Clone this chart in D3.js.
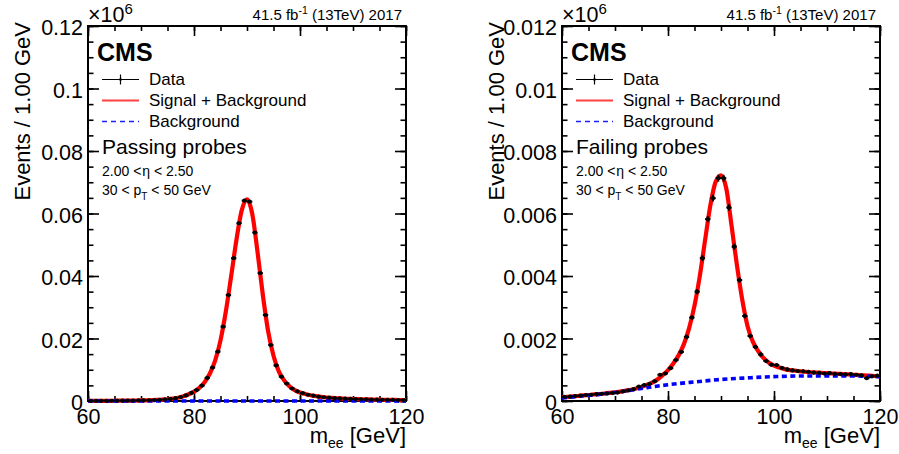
<!DOCTYPE html>
<html><head><meta charset="utf-8">
<script src="https://cdn.jsdelivr.net/npm/d3@7"></script>
<style>
body{margin:0;background:#fff}
text{font-family:"Liberation Sans",Arial,Helvetica,sans-serif;fill:#000}
</style>
</head><body>
<svg id="c" width="899" height="454"></svg>
<script>
// ---------- data (values in units of 10^6 events / 1 GeV) ----------
const binCenters = d3.range(60.5, 120, 1);          // 60 bins of 1 GeV
const fitGrid = d3.range(60, 121, 1);               // fit curve sampled every GeV
const bkgGrid = [60, 65, 70, 75, 80, 85, 90, 95, 100, 105, 110, 115, 120];

const passData = [
  0.00005,0.00005,0.00006,0.00007,0.00008,0.00009,0.00010,0.00012,0.00014,0.00017,
  0.00020,0.00024,0.00030,0.00038,0.00050,0.00066,0.00090,0.00125,0.00180,0.00260,
  0.00350,0.00490,0.00740,0.01070,0.01580,0.02380,0.03390,0.04570,0.05690,0.06410,
  0.06380,0.05390,0.04090,0.02750,0.01790,0.01140,0.00780,0.00560,0.00400,0.00310,
  0.00250,0.00200,0.00170,0.00140,0.00120,0.00105,0.00092,0.00082,0.00074,0.00067,
  0.00061,0.00056,0.00051,0.00047,0.00043,0.00040,0.00037,0.00034,0.00032,0.00030];
const passFit = [
  0.00004,0.00005,0.00005,0.00006,0.00007,0.00008,0.00009,0.00011,0.00013,0.00015,
  0.00018,0.00022,0.00027,0.00033,0.00043,0.00057,0.00077,0.00106,0.00150,0.00215,
  0.00300,0.00420,0.00600,0.00880,0.01300,0.01940,0.02860,0.03980,0.05150,0.06100,
  0.06450,0.05980,0.04750,0.03380,0.02220,0.01450,0.00950,0.00660,0.00470,0.00350,
  0.00275,0.00225,0.00185,0.00155,0.00130,0.00112,0.00098,0.00087,0.00078,0.00070,
  0.00064,0.00058,0.00053,0.00049,0.00045,0.00042,0.00039,0.00036,0.00033,0.00031,0.00029];
const passBkg = [0.00001,0.00001,0.00001,0.00001,0.00001,0.00001,0.00001,0.00001,0.00001,0.00001,0.00001,0.00001,0.00001];

const failData = [
  0.00013,0.00014,0.00016,0.00017,0.00019,0.00020,0.00022,0.00023,0.00024,0.00026,
  0.00027,0.00031,0.00034,0.00038,0.00046,0.00051,0.00055,0.00063,0.00084,0.00088,
  0.00105,0.00131,0.00157,0.00205,0.00267,0.00350,0.00457,0.00582,0.00649,0.00713,
  0.00713,0.00619,0.00494,0.00387,0.00272,0.00208,0.00173,0.00149,0.00128,0.00116,
  0.00115,0.00106,0.00101,0.00098,0.00096,0.00095,0.00093,0.00091,0.00090,0.00088,
  0.00089,0.00087,0.00086,0.00085,0.00086,0.00084,0.00082,0.00073,0.00079,0.00081];
const failFit = [
  0.00012,0.00013,0.00015,0.00016,0.00018,0.00019,0.00021,0.00022,0.00024,0.00026,
  0.00028,0.00030,0.00033,0.00036,0.00040,0.00045,0.00051,0.00059,0.00069,0.00083,
  0.00099,0.00120,0.00146,0.00182,0.00234,0.00305,0.00400,0.00515,0.00627,0.00702,
  0.00722,0.00680,0.00560,0.00435,0.00325,0.00240,0.00190,0.00160,0.00138,0.00123,
  0.00113,0.00107,0.00102,0.00099,0.00097,0.00095,0.00093,0.00092,0.00091,0.00090,
  0.00089,0.00088,0.00087,0.00086,0.00085,0.00084,0.00083,0.00082,0.00081,0.00080,0.00079];
const failBkg = [0.00010,0.00018,0.00027,0.00040,0.00052,0.00061,0.00069,0.00074,0.00078,0.00080,0.00080,0.00080,0.00078];

const xTicks = [60, 80, 100, 120];
const xMinor = d3.range(60, 121, 5);
const passYTicks = [0, 0.02, 0.04, 0.06, 0.08, 0.10, 0.12];
const passYLabels = ["0", "0.02", "0.04", "0.06", "0.08", "0.1", "0.12"];
const failYTicks = [0, 0.002, 0.004, 0.006, 0.008, 0.010, 0.012];
const failYLabels = ["0", "0.002", "0.004", "0.006", "0.008", "0.01", "0.012"];
const legendLabels = ["Data", "Signal + Background", "Background"];

// ---------- drawing ----------
const svg = d3.select("#c");

function panel(o) {
  const x0 = o.left, x1 = o.left + 318, y0 = 26, y1 = 401;
  const x = d3.scaleLinear().domain([60, 120]).range([x0, x1]);
  const y = d3.scaleLinear().domain([0, o.ymax]).range([y1, y0]);
  const g = svg.append("g");

  // frame
  g.append("rect").attr("x", x0).attr("y", y0).attr("width", x1 - x0).attr("height", y1 - y0)
    .attr("fill", "none").attr("stroke", "#000").attr("stroke-width", 2);

  const tickStyle = sel => { sel.select(".domain").remove(); sel.selectAll("line").attr("stroke", "#000").attr("stroke-width", 1.6); };

  // x axes
  g.append("g").attr("transform", `translate(0,${y1})`)
    .call(d3.axisBottom(x).tickValues(xMinor).tickSizeInner(-5).tickSizeOuter(0).tickFormat("")).call(tickStyle);
  const xb = g.append("g").attr("transform", `translate(0,${y1})`)
    .call(d3.axisBottom(x).tickValues(xTicks).tickSizeInner(-10).tickSizeOuter(0).tickPadding(8).tickFormat(d3.format("d"))).call(tickStyle);
  xb.selectAll("text").attr("font-size", 21.5).attr("font-family", "Liberation Sans, Arial, sans-serif").attr("fill", "#000");
  g.append("g").attr("transform", `translate(0,${y0})`)
    .call(d3.axisTop(x).tickValues(xMinor).tickSizeInner(-5).tickSizeOuter(0).tickFormat("")).call(tickStyle);
  g.append("g").attr("transform", `translate(0,${y0})`)
    .call(d3.axisTop(x).tickValues(xTicks).tickSizeInner(-10).tickSizeOuter(0).tickFormat("")).call(tickStyle);

  // y axes
  const yMinor = d3.range(0, o.ymax * 1.0001, o.ymax / 24);
  g.append("g").attr("transform", `translate(${x0},0)`)
    .call(d3.axisLeft(y).tickValues(yMinor).tickSizeInner(-5.5).tickSizeOuter(0).tickFormat("")).call(tickStyle);
  const yl = g.append("g").attr("transform", `translate(${x0},0)`)
    .call(d3.axisLeft(y).tickValues(o.yTicks).tickSizeInner(-11).tickSizeOuter(0).tickPadding(5)
      .tickFormat((d, i) => o.yLabels[i])).call(tickStyle);
  yl.selectAll("text").attr("font-size", 21.5).attr("dy", "0.4em").attr("font-family", "Liberation Sans, Arial, sans-serif").attr("fill", "#000");
  g.append("g").attr("transform", `translate(${x1},0)`)
    .call(d3.axisRight(y).tickValues(yMinor).tickSizeInner(-5.5).tickSizeOuter(0).tickFormat("")).call(tickStyle);
  g.append("g").attr("transform", `translate(${x1},0)`)
    .call(d3.axisRight(y).tickValues(o.yTicks).tickSizeInner(-11).tickSizeOuter(0).tickFormat("")).call(tickStyle);

  // x10^6
  const m = g.append("text").attr("x", x0).attr("y", 22).attr("font-size", 21.5).text("×10");
  m.append("tspan").attr("font-size", 15).attr("dy", -8).text("6");

  // lumi
  const l = g.append("text").attr("x", x1 - 4).attr("y", 20).attr("text-anchor", "end").attr("font-size", 15).text("41.5 fb");
  l.append("tspan").attr("font-size", 10.5).attr("dy", -6).text("-1");
  l.append("tspan").attr("dy", 6).text(" (13TeV) 2017");

  // axis titles
  g.append("text").attr("transform", `translate(${x0 - 58},22) rotate(-90)`).attr("text-anchor", "end")
    .attr("font-size", 22).text("Events / 1.00 GeV");
  const xt = g.append("text").attr("x", x1).attr("y", 443).attr("text-anchor", "end").attr("font-size", 22).text("m");
  xt.append("tspan").attr("font-size", 14).attr("dy", 5).text("ee");
  xt.append("tspan").attr("dy", -5).text(" [GeV]");

  // curves
  const line = d3.line().x(d => x(d[0])).y(d => y(d[1])).curve(d3.curveMonotoneX);
  g.append("path").datum(d3.zip(fitGrid, o.fit)).attr("d", line)
    .attr("fill", "none").attr("stroke", "#ff0000").attr("stroke-width", 4.2);
  g.append("path").datum(d3.zip(bkgGrid, o.bkg)).attr("d", line)
    .attr("fill", "none").attr("stroke", "#0000ff").attr("stroke-width", 3.6).attr("stroke-dasharray", "5,3.5");

  // data points with errors
  const pts = g.append("g").selectAll("g").data(d3.zip(binCenters, o.data)).join("g");
  pts.append("line").attr("x1", d => x(d[0] - 0.5)).attr("x2", d => x(d[0] + 0.5))
    .attr("y1", d => y(d[1])).attr("y2", d => y(d[1])).attr("stroke", "#000").attr("stroke-width", 2);
  pts.append("line").attr("x1", d => x(d[0])).attr("x2", d => x(d[0]))
    .attr("y1", d => y(d[1] - Math.sqrt(d[1] * 1e6) / 1e6) + 0.8)
    .attr("y2", d => y(d[1] + Math.sqrt(d[1] * 1e6) / 1e6) - 0.8)
    .attr("stroke", "#000").attr("stroke-width", 1.8);
  pts.append("circle").attr("cx", d => x(d[0])).attr("cy", d => y(d[1])).attr("r", 2.1).attr("fill", "#000");

  // CMS + legend
  g.append("text").attr("x", x0 + 9).attr("y", 61).attr("font-size", 25).attr("font-weight", "bold").text("CMS");
  const lx0 = x0 + 14, lx1 = x0 + 51, tx = x0 + 61;
  const rows = [79.5, 100.5, 121.5];
  g.append("line").attr("x1", lx0).attr("x2", lx1).attr("y1", rows[0]).attr("y2", rows[0]).attr("stroke", "#000").attr("stroke-width", 1.2);
  g.append("line").attr("x1", (lx0 + lx1) / 2).attr("x2", (lx0 + lx1) / 2).attr("y1", rows[0] - 5).attr("y2", rows[0] + 5).attr("stroke", "#000").attr("stroke-width", 1.2);
  g.append("circle").attr("cx", (lx0 + lx1) / 2).attr("cy", rows[0]).attr("r", 1.3).attr("fill", "#000");
  g.append("line").attr("x1", lx0).attr("x2", lx1).attr("y1", rows[1]).attr("y2", rows[1]).attr("stroke", "#ff4040").attr("stroke-width", 2);
  g.append("line").attr("x1", lx0).attr("x2", lx1).attr("y1", rows[2]).attr("y2", rows[2]).attr("stroke", "#1f1fff").attr("stroke-width", 1.6).attr("stroke-dasharray", "5,4");
  legendLabels.forEach((t, i) => g.append("text").attr("x", tx).attr("y", rows[i] + 5.5).attr("font-size", 17).text(t));

  g.append("text").attr("x", x0 + 14).attr("y", 154).attr("font-size", 21).text(o.title);
  const e = g.append("text").attr("x", x0 + 14).attr("y", 176).attr("font-size", 14).text("2.00 <");
  e.append("tspan").attr("dx", 1).text("η");
  e.append("tspan").text(" < 2.50");
  const p = g.append("text").attr("x", x0 + 14).attr("y", 194.5).attr("font-size", 14).text("30 < p");
  p.append("tspan").attr("font-size", 10).attr("dy", 5).text("T");
  p.append("tspan").attr("dy", -5).text(" < 50 GeV");
}

panel({left: 88, ymax: 0.12, yTicks: passYTicks, yLabels: passYLabels, data: passData, fit: passFit, bkg: passBkg, title: "Passing probes"});
panel({left: 562, ymax: 0.012, yTicks: failYTicks, yLabels: failYLabels, data: failData, fit: failFit, bkg: failBkg, title: "Failing probes"});
</script>
</body></html>
